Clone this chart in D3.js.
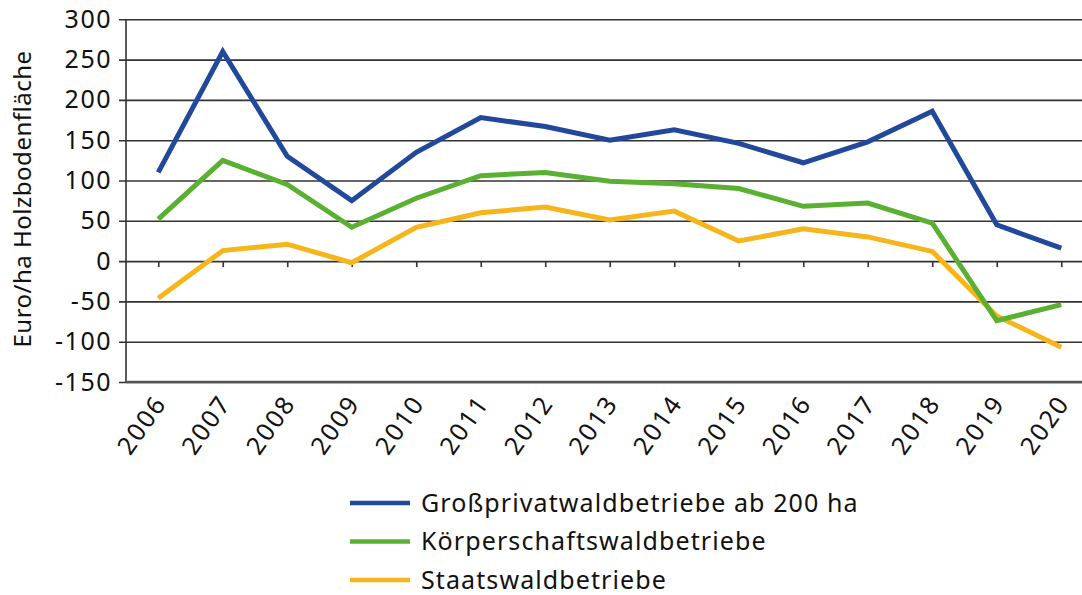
<!DOCTYPE html>
<html>
<head>
<meta charset="utf-8">
<script src="https://cdn.jsdelivr.net/npm/d3@7"></script>
<style>
  body { margin: 0; background: #fff; }
  text { font-family: "Noto Sans", sans-serif; fill: #111; }
</style>
</head>
<body>
<svg id="chart" width="1082" height="595"></svg>
<script>
// data
const years = ["2006","2007","2008","2009","2010","2011","2012","2013","2014","2015","2016","2017","2018","2019","2020"]
const grossprivat = [110, 260, 130, 75, 135, 178, 167, 150, 163, 146, 122, 148, 186, 45, 16]
const koerperschaft = [52, 125, 95, 42, 78, 106, 110, 99, 96, 90, 68, 72, 47, -74, -54]
const staat = [-46, 13, 21, -2, 42, 60, 67, 51, 62, 25, 40, 30, 12, -68, -107]
const yTicks = [-150, -100, -50, 0, 50, 100, 150, 200, 250, 300]
const seriesNames = ["Großprivatwaldbetriebe ab 200 ha", "Körperschaftswaldbetriebe", "Staatswaldbetriebe"]
const seriesColors = ["#21489a", "#5ab031", "#f6b51a"]

const svg = d3.select("#chart")
const left = 126
const x = d3.scalePoint().domain(years).range([left, left + 15 * 64.5]).padding(0.5)
const y = d3.scaleLinear().domain([-150, 300]).range([382, 19.3])

// gridlines
svg.append("g")
    .attr("transform", `translate(${left},0)`)
    .call(d3.axisLeft(y).tickValues(yTicks).tickSize(-(1082 - left)).tickSizeOuter(0).tickPadding(14).tickFormat(d => String(d)))
    .call(g => g.select(".domain").remove())
    .call(g => g.selectAll(".tick line").attr("stroke", "#333").attr("stroke-width", 1.6).attr("x1", -7))
    .call(g => g.selectAll(".tick text").style("font-size", "25px").attr("letter-spacing", "1.5px").attr("fill", "#111"))

// vertical axis line
svg.append("line")
    .attr("x1", left).attr("x2", left)
    .attr("y1", y(300)).attr("y2", y(-150))
    .attr("stroke", "#333").attr("stroke-width", 1.6)

// bottom line
svg.append("line")
    .attr("x1", left).attr("x2", 1082)
    .attr("y1", y(-150)).attr("y2", y(-150))
    .attr("stroke", "#555").attr("stroke-width", 2.4)

// small ticks on the zero line
svg.append("g")
    .attr("transform", `translate(0,${y(0)})`)
    .call(d3.axisBottom(x).tickSize(6).tickFormat(""))
    .call(g => g.select(".domain").remove())
    .call(g => g.selectAll(".tick line").attr("stroke", "#333").attr("stroke-width", 1.6))

// year labels
svg.append("g")
    .selectAll("text")
    .data(years)
    .join("text")
    .attr("transform", d => `translate(${x(d) - 5},${y(-150) + 11}) rotate(-55)`)
    .attr("text-anchor", "end")
    .attr("dy", "0.7em")
    .attr("letter-spacing", "2px")
    .style("font-size", "25px")
    .text(d => d)

// axis title
svg.append("text")
    .attr("transform", "translate(31,199) rotate(-90)")
    .attr("text-anchor", "middle")
    .attr("letter-spacing", "0.5px")
    .style("font-size", "24px")
    .text("Euro/ha Holzbodenfläche")

// lines
const line = d3.line().x((d, i) => x(years[i])).y(d => y(d))
const allSeries = [grossprivat, koerperschaft, staat]
// orange first, then green, blue on top
;[2, 1, 0].forEach(k => {
    svg.append("path")
        .datum(allSeries[k])
        .attr("fill", "none")
        .attr("stroke", seriesColors[k])
        .attr("stroke-width", 5)
        .attr("stroke-linejoin", "miter")
        .attr("d", line)
})

// legend
const legend = svg.append("g")
seriesNames.forEach((name, i) => {
    const ly = 503 + i * 38.5
    legend.append("line")
        .attr("x1", 350).attr("x2", 410)
        .attr("y1", ly).attr("y2", ly)
        .attr("stroke", seriesColors[i]).attr("stroke-width", 4.5)
    legend.append("text")
        .attr("x", 421).attr("y", ly)
        .attr("dy", "0.35em")
        .attr("letter-spacing", "1.1px")
        .style("font-size", "25px")
        .text(name)
})
</script>
</body>
</html>
